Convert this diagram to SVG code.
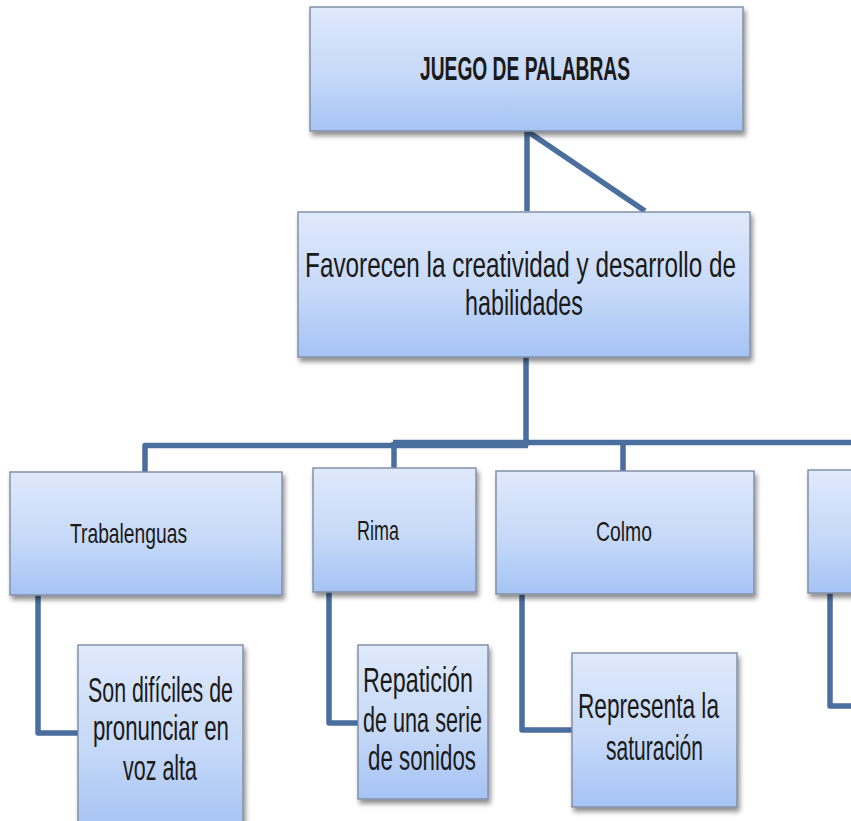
<svg xmlns="http://www.w3.org/2000/svg" width="851" height="821" viewBox="0 0 851 821">
<defs>
<linearGradient id="boxfill" x1="0" y1="0" x2="0" y2="1">
<stop offset="0" stop-color="#dfe9fb"/>
<stop offset="0.55" stop-color="#c6d9f8"/>
<stop offset="1" stop-color="#a5c3f4"/>
</linearGradient>
<filter id="shadow" x="-10%" y="-10%" width="130%" height="140%">
<feGaussianBlur in="SourceAlpha" stdDeviation="2.5"/>
<feOffset dx="2" dy="4" result="b"/>
<feComponentTransfer><feFuncA type="linear" slope="0.45"/></feComponentTransfer>
<feMerge><feMergeNode/><feMergeNode in="SourceGraphic"/></feMerge>
</filter>
</defs>
<style>
.box{fill:url(#boxfill);stroke:#8391a6;stroke-width:1.5;filter:url(#shadow);}
.con{fill:none;stroke:#4a6e9e;stroke-width:5.5;stroke-linejoin:round;}
text{font-family:"Liberation Sans Narrow","Liberation Sans",Arial,sans-serif;fill:#1a1a1a;}
.t1{font-size:33px;font-weight:bold;}
.t2{font-size:35px;}
.t3{font-size:28px;}
.t4{font-size:35px;}
</style>
<rect width="851" height="821" fill="#ffffff"/>
<g id="connectors">
<path class="con" d="M527,131 V211"/>
<path class="con" d="M527,131 L645,211"/>
<path class="con" d="M526,357 V446"/>
<path class="con" d="M145,472 V445.5 H528"/>
<path class="con" d="M393,442.5 H851"/>
<path class="con" d="M394,442 V468"/>
<path class="con" d="M623,442 V471"/>
<path class="con" d="M38,595 V733 H78"/>
<path class="con" d="M329,592 V723 H358"/>
<path class="con" d="M522,594 V730 H572"/>
<path class="con" d="M830,593 V706 H851"/>
</g>
<g id="juego">
<rect class="box" x="310" y="7" width="433" height="124"/>
<text class="t1" x="420" y="80" textLength="210" lengthAdjust="spacingAndGlyphs">JUEGO DE PALABRAS</text>
</g>
<g id="favorecen">
<rect class="box" x="298" y="212" width="452" height="145"/>
<text class="t2" x="372" y="277" transform="scale(0.82,1)" textLength="525.6" lengthAdjust="spacingAndGlyphs">Favorecen la creatividad y desarrollo de</text>
<text class="t2" x="465" y="315" textLength="118" lengthAdjust="spacingAndGlyphs">habilidades</text>
</g>
<g id="trabalenguas">
<rect class="box" x="10" y="472" width="272" height="123"/>
<text class="t3" x="70" y="543" textLength="117" lengthAdjust="spacingAndGlyphs">Trabalenguas</text>
</g>
<g id="rima">
<rect class="box" x="313" y="468" width="163" height="124"/>
<text class="t3" x="357" y="540" textLength="42" lengthAdjust="spacingAndGlyphs">Rima</text>
</g>
<g id="colmo">
<rect class="box" x="496" y="471" width="258" height="123"/>
<text class="t3" x="596" y="541" textLength="56" lengthAdjust="spacingAndGlyphs">Colmo</text>
</g>
<g id="cuarto">
<rect class="box" x="808" y="470" width="60" height="123"/>
</g>
<g id="trabalenguas-desc">
<rect class="box" x="78" y="645" width="165" height="185"/>
<text class="t4" x="88" y="702" textLength="145" lengthAdjust="spacingAndGlyphs">Son difíciles de</text>
<text class="t4" x="93" y="740" textLength="136" lengthAdjust="spacingAndGlyphs">pronunciar en</text>
<text class="t4" x="123" y="780" textLength="74" lengthAdjust="spacingAndGlyphs">voz alta</text>
</g>
<g id="rima-desc">
<rect class="box" x="358" y="645" width="130" height="154"/>
<text class="t4" x="363" y="692" textLength="110" lengthAdjust="spacingAndGlyphs">Repatición</text>
<text class="t4" x="363" y="732" textLength="119" lengthAdjust="spacingAndGlyphs">de una serie</text>
<text class="t4" x="368" y="770" textLength="108" lengthAdjust="spacingAndGlyphs">de sonidos</text>
</g>
<g id="colmo-desc">
<rect class="box" x="572" y="653" width="165" height="154"/>
<text class="t4" x="578" y="718" textLength="141" lengthAdjust="spacingAndGlyphs">Representa la</text>
<text class="t4" x="606" y="760" textLength="97" lengthAdjust="spacingAndGlyphs">saturación</text>
</g>
</svg>
